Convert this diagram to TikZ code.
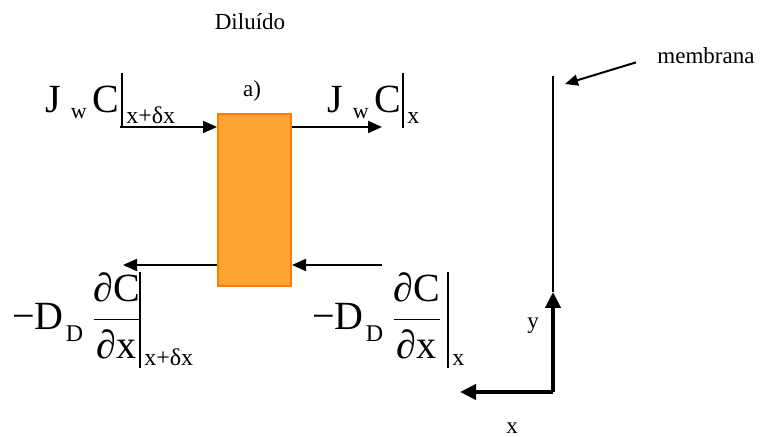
\documentclass[tikz,border=0pt]{standalone}
\usepackage{amsmath}
\usepackage{fontspec}
\setmainfont{Liberation Serif}
\usepackage{tikz}
\usetikzlibrary{positioning,arrows.meta}
\definecolor{celda}{HTML}{FFA433}
\definecolor{bordecelda}{HTML}{FF7A00}
\newcommand{\fgrande}{\fontsize{20}{24}\selectfont}
\newcommand{\fsub}{\fontsize{12}{14}\selectfont}
\newcommand{\fsubw}{\fontsize{11}{13}\selectfont}
\newcommand{\fetiq}{\fontsize{11.5}{14}\selectfont}
\newcommand{\fracd}{$\genfrac{}{}{0.8pt}{0}{\text{∂C}}{\text{∂x}}$}

\begin{document}
\begin{tikzpicture}[x=0.5pt, y=-0.5pt,
  flujo/.style={line width=1pt, -{Triangle[length=7pt,width=6pt]}},
  eje/.style={line width=2pt, -{Triangle[length=8pt,width=7.5pt]}},
  barra/.style={line width=0.9pt},
  ecu/.style={font=\fgrande, inner sep=0pt, anchor=base west},
  subi/.style={font=\fsub, inner sep=0pt, anchor=base west},
  etiq/.style={font=\fetiq, inner sep=0pt}]
\useasboundingbox (0,0) rectangle (761,437);

% elemento de volumen
\node[draw=bordecelda, fill=celda, line width=1pt, minimum width=36.5pt,
      minimum height=86pt, inner sep=0pt] (cell) at (254.5,200) {};
\node[etiq] (diluido) at (250,22) {Diluído};
\node[etiq] (aa) at (252,91) {a)};

% flujos convectivos
\coordinate (convIn) at (120,127);
\coordinate (convOut) at (382,127);
\draw[flujo] (convIn) -- (convIn -| cell.west);
\draw[flujo] (convOut -| cell.east) -- (convOut);

% flujos difusivos
\coordinate (difIn) at (382,265);
\coordinate (difOut) at (123,265);
\draw[flujo] (difIn) -- (difIn -| cell.east);
\draw[flujo] (difOut -| cell.west) -- (difOut);

% J_w C entrada
\node[ecu] (jwcIn) at (45,113) {J\hspace{5pt}\raisebox{-3pt}{\fsubw w}\hspace{3pt}C};
\draw[barra] (122,73) -- (122,128);
\node[subi] (jwcInSub) at (126,124) {x+δx};

% J_w C salida
\node[ecu] (jwcOut) at (327,113) {J\hspace{5pt}\raisebox{-3pt}{\fsubw w}\hspace{3pt}C};
\draw[barra] (403,73) -- (403,128);
\node[subi] (jwcOutSub) at (407,124) {x};

% difusion entrada
\node[ecu] (difL) at (12,330) {−D\hspace{1pt}\raisebox{-6pt}{\fsub D}\hspace{4pt}\fracd};
\draw[barra] (140,272) -- (140,368);
\node[subi] (difLSub) at (144,366) {x+δx};

% difusion salida
\node[ecu] (difR) at (312,330) {−D\hspace{1pt}\raisebox{-6pt}{\fsub D}\hspace{4pt}\fracd};
\draw[barra] (448,272) -- (448,368);
\node[subi] (difRSub) at (452,366) {x};

% membrana y ejes
\coordinate (O) at (553,392);
\coordinate (yTip) at (553,292);
\coordinate (xTip) at (460,392);
\coordinate (mTop) at (553,76);
\draw[line width=1pt] (yTip) -- (mTop);
\draw[eje] (O) -- (yTip);
\draw[eje] (O) -- (xTip);
\node[etiq] (yLbl) at (533,326) {y};
\node[etiq] (xLbl) at (512,428) {x};
\node[etiq, anchor=west] (membrana) at (657,56) {membrana};
\coordinate (mTip) at (565,84);
\draw[line width=1pt, -{Triangle[length=6.5pt,width=5.5pt]}, shorten <=11pt] (membrana.west) -- (mTip);
\end{tikzpicture}
\end{document}
